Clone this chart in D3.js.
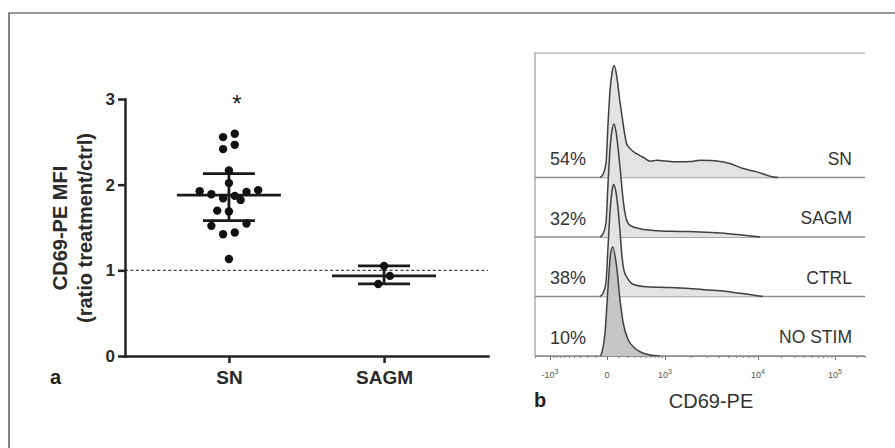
<!DOCTYPE html>
<html>
<head>
<meta charset="utf-8">
<script src="https://cdn.jsdelivr.net/npm/d3@7"></script>
<style>
  body { margin: 0; background: #fff; }
  svg { display: block; font-family: "Liberation Sans", Arial, Helvetica, sans-serif; }
</style>
</head>
<body>
<div id="chart"></div>
<script>
// ---- panel a : ratio treatment / ctrl ----
var groups = ['SN', 'SAGM'];
var snValues = [2.555, 2.594, 2.415, 2.465, 2.165, 2.018, 1.924, 1.889, 1.842, 1.822,
                1.869, 1.916, 1.936, 1.686, 1.697, 1.546, 1.441, 1.422, 1.519, 1.133];
var sagmValues = [1.051, 0.935, 0.841];
var yTicks = [0, 1, 2, 3];
var refValue = 1;

// ---- panel b : CD69-PE histograms, [CD69-PE, % of max] ----
var rows = ['SN', 'SAGM', 'CTRL', 'NO STIM'];
var rowPercents = ['54%', '32%', '38%', '10%'];
var snHist = [[-59, 0], [-33, 2.7], [-8, 12.5], [8, 48], [24, 78], [40, 93], [60, 100], [86, 89],
              [117, 67], [138, 55], [194, 30], [237, 26], [309, 22], [391, 19.6], [484, 17],
              [590, 14.6], [762, 15.4], [1000, 14.7], [1250, 14], [1600, 14], [1970, 14.2],
              [2530, 15.4], [3240, 15.2], [3840, 14.8], [5220, 12.5], [7080, 8], [9770, 5],
              [14400, 1.2], [18300, 0]];
var sagmHist = [[-59, 0], [-33, 2.7], [-8, 12.5], [8, 48], [24, 78.6], [40, 94.6], [58, 100.9],
                [77, 93.8], [96, 80], [117, 62.5], [150, 34], [185, 17], [237, 10.4], [391, 7.4],
                [660, 5.9], [1515, 5], [2530, 4.5], [4120, 3.6], [6600, 2], [10600, 0]];
var ctrlHist = [[-59, 0], [-33, 2.7], [-8, 12.5], [8, 44.6], [24, 75.9], [40, 93.8], [54, 100],
                [77, 92.9], [96, 78.6], [117, 58], [138, 35.7], [161, 23.2], [197, 17], [279, 11],
                [525, 8.7], [1150, 8], [2530, 6.5], [4120, 5.1], [6600, 2.9], [11600, 0]];
var noStimHist = [[-53, 0], [-16, 20.3], [10, 65], [29, 91.7], [47, 97.3], [83, 79.5], [117, 50],
                  [153, 29.2], [214, 14.3], [283, 8.3], [391, 3.8], [590, 0.9], [850, 0]];
var cdTicks = [-1000, 0, 1000, 10000, 100000];
var cdTickLabels = [['-10', '3'], ['0', ''], ['10', '3'], ['10', '4'], ['10', '5']];
var minorMult = [1, 2, 3, 4, 5, 6, 7, 8, 9];

var width = 895, height = 448;
var svg = d3.select('#chart').append('svg')
    .attr('width', width)
    .attr('height', height);

// figure frame (top and left)
svg.append('path')
    .attr('d', 'M9,448V13H895')
    .attr('fill', 'none')
    .attr('stroke', '#333')
    .attr('stroke-width', 1.2);

// ================= panel a =================
var x = d3.scalePoint().domain(groups).range([125, 488]).padding(0.67);
var y = d3.scaleLinear().domain([0, 3]).range([356, 99]);

function quartile(sorted, p) {
    var pos = (sorted.length + 1) * p - 1;
    var lo = Math.max(0, Math.floor(pos)), hi = Math.min(sorted.length - 1, lo + 1);
    return sorted[lo] + (pos - lo) * (sorted[hi] - sorted[lo]);
}

// simple row-binned scatter layout like a column dot plot
function swarm(values, cx, step) {
    var sorted = values.slice().sort(d3.ascending);
    var out = [], row = [];
    function flush() {
        var n = row.length;
        row.forEach(function (v, i) {
            var k;
            if (n % 2) k = i === 0 ? 0 : (i % 2 ? -(i + 1) / 2 : i / 2);
            else k = (i % 2 ? 1 : -1) * (Math.floor(i / 2) + 0.5);
            out.push({ v: v, x: cx + k * step, y: y(v) });
        });
        row = [];
    }
    sorted.forEach(function (v) {
        if (row.length && v - row[0] > 0.14) flush();
        row.push(v);
    });
    flush();
    return out;
}

var a = svg.append('g').attr('class', 'panel-a');

// reference line at 1
a.append('line')
    .attr('x1', 125).attr('x2', 488)
    .attr('y1', y(refValue)).attr('y2', y(refValue))
    .attr('stroke', '#444')
    .attr('stroke-width', 1.2)
    .attr('stroke-dasharray', '3,2.4');

var yAxis = a.append('g')
    .attr('transform', 'translate(125,0)')
    .call(d3.axisLeft(y).tickValues(yTicks).tickFormat(d3.format('d'))
        .tickSize(7).tickSizeOuter(0).tickPadding(3));
var xAxis = a.append('g')
    .attr('transform', 'translate(0,356)')
    .call(d3.axisBottom(x).tickSize(7).tickSizeOuter(0).tickPadding(8));
[yAxis, xAxis].forEach(function (g) {
    g.selectAll('path, line').attr('stroke', '#222').attr('stroke-width', 2.5);
    g.select('.domain').attr('stroke-linecap', 'square');
    g.selectAll('text').attr('fill', '#2a2a2a').attr('font-weight', 'bold')
        .attr('font-family', '"Liberation Sans", Arial, sans-serif');
});
yAxis.selectAll('text').attr('font-size', 17);
xAxis.selectAll('text').attr('font-size', 19);

// y label
var yl = a.append('g').attr('font-weight', 'bold').attr('font-size', 20)
    .attr('fill', '#2a2a2a').attr('text-anchor', 'middle');
yl.append('text').attr('transform', 'translate(67,228) rotate(-90)').text('CD69-PE MFI');
yl.append('text').attr('transform', 'translate(92,228) rotate(-90)').text('(ratio treatment/ctrl)');

a.append('text')
    .attr('x', 50).attr('y', 384)
    .attr('font-size', 20).attr('font-weight', 'bold').attr('fill', '#222')
    .text('a');

var series = [{ name: 'SN', values: snValues }, { name: 'SAGM', values: sagmValues }];
series.forEach(function (s) {
    var cx = x(s.name);
    var sorted = s.values.slice().sort(d3.ascending);
    var med = quartile(sorted, 0.5), q1 = quartile(sorted, 0.25), q3 = quartile(sorted, 0.75);
    var g = a.append('g').attr('stroke', '#1a1a1a').attr('stroke-width', 2.8);
    g.append('line').attr('x1', cx).attr('x2', cx).attr('y1', y(q1)).attr('y2', y(q3));
    g.append('line').attr('x1', cx - 52).attr('x2', cx + 52).attr('y1', y(med)).attr('y2', y(med));
    g.append('line').attr('x1', cx - 26).attr('x2', cx + 26).attr('y1', y(q1)).attr('y2', y(q1));
    g.append('line').attr('x1', cx - 26).attr('x2', cx + 26).attr('y1', y(q3)).attr('y2', y(q3));
    a.append('g').selectAll('circle')
        .data(swarm(s.values, cx, 11.7))
        .enter().append('circle')
        .attr('cx', function (d) { return d.x; })
        .attr('cy', function (d) { return d.y; })
        .attr('r', 4.2)
        .attr('fill', '#111');
});

// significance marker over SN
a.append('text')
    .attr('x', x('SN') + 8).attr('y', 112)
    .attr('text-anchor', 'middle')
    .attr('font-size', 24).attr('fill', '#222')
    .text('*');

// ================= panel b =================
var xh = d3.scaleSymlog().constant(300)
    .domain([-1600, -1000, 0, 1000, 10000, 100000, 260000])
    .range([535, 550, 607, 665, 758, 835, 865]);
var rowY = d3.scalePoint().domain(rows).range([177.5, 356]);
var hY = d3.scaleLinear().domain([0, 100]).range([0, 112]);

var b = svg.append('g').attr('class', 'panel-b');

b.append('path')
    .attr('d', 'M535,356V53H865')
    .attr('fill', 'none')
    .attr('stroke', '#9a9a9a')
    .attr('stroke-width', 1.2);

var hists = [snHist, sagmHist, ctrlHist, noStimHist];
var fills = ['#e3e3e3', '#e3e3e3', '#e3e3e3', '#c6c6c6'];

rows.forEach(function (r, i) {
    var base = rowY(r);
    var area = d3.area()
        .curve(d3.curveMonotoneX)
        .x(function (d) { return xh(d[0]); })
        .y0(base)
        .y1(function (d) { return base - hY(d[1]); });
    var line = d3.line()
        .curve(d3.curveMonotoneX)
        .x(function (d) { return xh(d[0]); })
        .y(function (d) { return base - hY(d[1]); });
    var g = b.append('g');
    g.append('line')
        .attr('x1', 535).attr('x2', 865)
        .attr('y1', base).attr('y2', base)
        .attr('stroke', '#8c8c8c').attr('stroke-width', 1.3);
    g.append('path').datum(hists[i])
        .attr('d', area)
        .attr('fill', fills[i]);
    g.append('path').datum(hists[i])
        .attr('d', line)
        .attr('fill', 'none')
        .attr('stroke', '#404040')
        .attr('stroke-width', 1.5)
        .attr('stroke-linejoin', 'round');
    g.append('text')
        .attr('x', 550).attr('y', base - 12.5)
        .attr('font-size', 18).attr('fill', '#333')
        .text(rowPercents[i]);
    g.append('text')
        .attr('x', 852).attr('y', base - 13)
        .attr('text-anchor', 'end')
        .attr('font-size', 17.5).attr('fill', '#333')
        .text(r);
});

// axis with minor ticks
var minorTicks = [];
[100, 1000, 10000, 100000].forEach(function (dec) {
    minorMult.forEach(function (m) {
        var v = m * dec;
        if (dec === 100 || v > dec) minorTicks.push(v);
    });
});
minorTicks = minorTicks.filter(function (v) { return v < 260000 && cdTicks.indexOf(v) < 0; });
var negMinor = minorMult.slice(1).map(function (m) { return -m * 100; }).concat([-100]);
var minorAxis = b.append('g')
    .attr('transform', 'translate(0,356)')
    .call(d3.axisBottom(xh).tickValues(minorTicks.concat(negMinor)).tickSize(2).tickFormat(''));
var majorAxis = b.append('g')
    .attr('transform', 'translate(0,356)')
    .call(d3.axisBottom(xh).tickValues(cdTicks).tickSize(4).tickSizeOuter(0).tickFormat(''));
[minorAxis, majorAxis].forEach(function (g) {
    g.selectAll('line').attr('stroke', '#777').attr('stroke-width', 1);
    g.select('.domain').attr('stroke', '#8c8c8c').attr('stroke-width', 1.2);
});

cdTicks.forEach(function (v, i) {
    var t = b.append('text')
        .attr('x', xh(v)).attr('y', 378)
        .attr('text-anchor', 'middle')
        .attr('font-size', 9).attr('fill', '#555');
    t.append('tspan').text(cdTickLabels[i][0]);
    if (cdTickLabels[i][1]) {
        t.append('tspan').attr('dy', -4).attr('font-size', 7).text(cdTickLabels[i][1]);
    }
});

b.append('text')
    .attr('x', 711).attr('y', 408)
    .attr('text-anchor', 'middle')
    .attr('font-size', 20).attr('fill', '#333')
    .text('CD69-PE');

b.append('text')
    .attr('x', 534).attr('y', 407)
    .attr('font-size', 20).attr('font-weight', 'bold').attr('fill', '#222')
    .text('b');
</script>
</body>
</html>
